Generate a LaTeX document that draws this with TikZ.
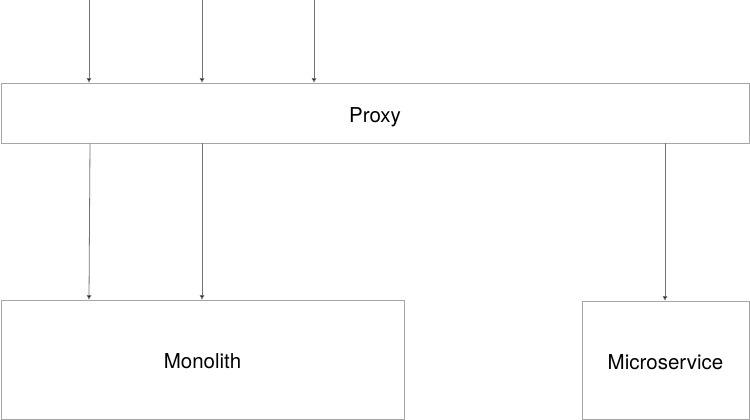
\documentclass[tikz,border=0pt]{standalone}
\usepackage{fontspec}
\setmainfont{TeX Gyre Heros}
\usetikzlibrary{arrows.meta}

\begin{document}
\begin{tikzpicture}[x=1pt, y=-1pt,
    box/.style={draw=black!35, line width=0.9pt, inner sep=0pt,
        text height=18.5pt, text depth=0pt,
        font=\fontsize{20.5}{24}\selectfont},
    flow/.style={draw=black!55, line width=0.8pt,
        -{Triangle[width=4.5pt, length=4.5pt, fill=black]}}]
    \useasboundingbox (0,0) rectangle (750,420);
    \node[box, minimum width=748pt, minimum height=60pt] (proxy) at (375,113) {Proxy};
    \node[box, minimum width=403pt, minimum height=119pt] (mono) at (202.5,359.5) {Monolith};
    \node[box, minimum width=167pt, minimum height=118pt] (micro) at (665.5,360) {Microservice};
    % incoming traffic
    \foreach \x/\n in {89/a, 202/b, 314/c} {
        \coordinate (in\n) at (\x,0);
        \draw[flow] (in\n) -- (proxy.north -| in\n);
    }
    % routes
    \draw[flow] (proxy.south -| 90,0) -- (mono.north -| 89,0);
    \draw[flow] (proxy.south -| 202,0) -- (mono.north -| 202,0);
    \draw[flow] (proxy.south -| 665,0) -- (micro.north -| 665,0);
\end{tikzpicture}
\end{document}
